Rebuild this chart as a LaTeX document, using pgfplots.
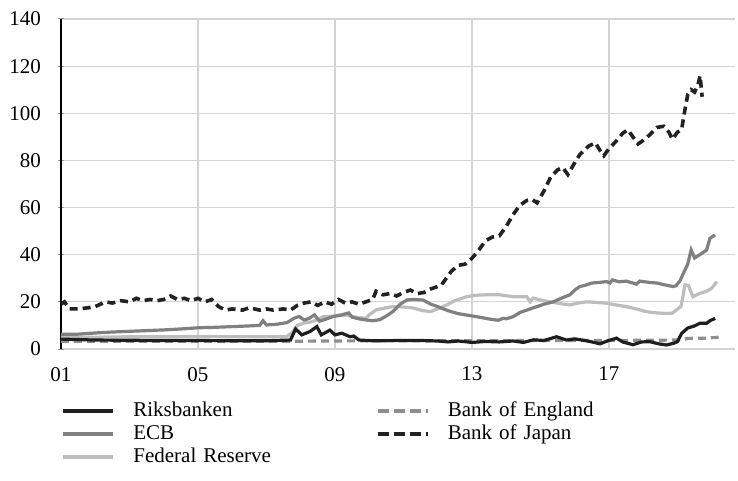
\documentclass[border=0pt]{standalone}
\usepackage{fontspec}
\setmainfont{Liberation Serif}
\usepackage{pgfplots}
\pgfplotsset{compat=1.18}
\definecolor{riks}{HTML}{1E1E1E}
\definecolor{ecb}{HTML}{808080}
\definecolor{fed}{HTML}{BDBDBD}
\definecolor{boe}{HTML}{8F8F8F}
\definecolor{boj}{HTML}{222222}
\definecolor{gridc}{HTML}{D4D4D4}
\begin{document}
\begin{tikzpicture}[font=\fontsize{10.5bp}{12bp}\selectfont]
\useasboundingbox (-30.5bp,-66bp) rectangle (338.5bp,174.5bp);
\begin{axis}[
  at={(0,0)}, anchor=south west,
  scale only axis, width=337bp, height=165bp,
  xmin=2001, xmax=2020.68, ymin=0, ymax=140,
  xtick={2001,2005,2009,2013,2017},
  xticklabels={01,05,09,13,17},
  ytick={0,20,40,60,80,100,120,140},
  /pgf/number format/assume math mode=true,
  axis x line=bottom, axis y line=left,
  x axis line style={draw=none},
  y axis line style={black, line width=0.8bp, -},
  grid=major,
  major grid style={gridc, line width=0.6bp},
  xtick style={draw=none},
  ytick style={gridc!70!black, line width=0.5bp},
  major tick length=3bp,
  tick label style={font=\fontsize{10.5bp}{12bp}\selectfont},
  xticklabel style={yshift=-4bp},
  yticklabel style={xshift=-5bp},
  clip=false,
  legend columns=2,
  legend cell align=left,
  legend style={at={(axis description cs:0,-0.155)}, anchor=north west,
    draw=none, fill=none, inner sep=0pt, outer sep=0pt,
    font=\fontsize{10.5bp}{12bp}\selectfont,
    row sep=0.5bp,
    nodes={inner sep=1bp, text height=7bp, text depth=2bp, text width=110bp},
    /tikz/every odd column/.append style={column sep=8bp},
    /tikz/every even column/.append style={column sep=10bp}},
  legend image code/.code={\draw[#1] (0bp,0bp) -- (25bp,0bp);},
]
% legend entries
\addlegendimage{riks, line width=2.2bp}
\addlegendentry{Riksbanken}
\addlegendimage{boe, line width=2.2bp, dash pattern=on 5.5bp off 2.5bp}
\addlegendentry{Bank of England}
\addlegendimage{ecb, line width=2.2bp}
\addlegendentry{ECB}
\addlegendimage{boj, line width=2.2bp, dash pattern=on 5.5bp off 2.5bp}
\addlegendentry{Bank of Japan}
\addlegendimage{fed, line width=2.2bp}
\addlegendentry{Federal Reserve}

% Bank of England
\addplot[forget plot, boe, line width=1.6bp, dash pattern=on 4bp off 2.5bp] coordinates {
(2001.0,3.3) (2004.0,3.3) (2007.8,3.3) (2010.0,3.5) (2013.0,3.5) (2015.0,3.6) (2017.0,3.6) (2019.1,3.8) (2019.3,4.5) (2019.8,4.6) (2020.2,5.0)
};
% Federal Reserve
\addplot[forget plot, fed, line width=1.6bp] coordinates {
(2001.0,5.0) (2002.0,5.0) (2003.0,5.2) (2004.0,5.2) (2005.0,5.3) (2006.0,5.2) (2007.0,5.2) (2007.6,5.3) (2007.75,7) (2007.9,10)
(2008.1,11) (2008.3,11.5) (2008.5,12.5) (2008.65,13.7) (2009.0,14) (2009.34,14.4) (2009.6,13.5) (2009.9,13) (2010.0,14.5) (2010.2,16.6)
(2010.5,17.5) (2010.7,18) (2011.0,17.8) (2011.28,17.4) (2011.5,16.5) (2011.77,15.8) (2012.0,17) (2012.26,18.7) (2012.5,20.5) (2012.85,22.2)
(2013.1,22.8) (2013.43,23) (2013.8,23) (2014.2,22.2) (2014.6,22.2) (2014.7,20) (2014.78,21.6) (2015.0,20.8) (2015.28,20) (2015.6,19.2)
(2015.86,18.7) (2016.1,19.5) (2016.35,20) (2016.6,19.8) (2016.93,19.4) (2017.2,18.7) (2017.5,18) (2017.8,17) (2018.1,15.8) (2018.4,15.3)
(2018.68,15.1) (2018.85,15.2) (2018.97,16.6) (2019.1,18) (2019.17,23) (2019.22,27.2) (2019.32,27) (2019.45,22.2) (2019.65,23.6) (2019.85,24.5)
(2020.0,25.8) (2020.15,28.6)
};
% ECB
\addplot[forget plot, ecb, line width=1.6bp] coordinates {
(2001.0,6.3) (2001.5,6.3) (2002.0,6.8) (2002.5,7.2) (2003.0,7.5) (2003.5,7.8) (2004.0,8.1) (2004.5,8.5) (2005.0,9.0) (2005.5,9.2)
(2006.0,9.5) (2006.5,9.8) (2006.8,10) (2006.9,12) (2007.0,10.2) (2007.3,10.5) (2007.6,11.2) (2007.8,13) (2007.95,13.8) (2008.1,12.3)
(2008.25,13) (2008.4,14.5) (2008.55,11.8) (2008.7,12.5) (2008.95,13.8) (2009.2,14.5) (2009.4,15.3) (2009.5,13.5) (2009.7,12.8) (2009.9,12.3)
(2010.1,12.0) (2010.3,12.4) (2010.5,14) (2010.7,16) (2010.9,19) (2011.1,20.8) (2011.3,21) (2011.57,20.8) (2011.8,19) (2012.0,18)
(2012.2,16.8) (2012.4,15.8) (2012.6,15) (2012.85,14.4) (2013.1,13.8) (2013.4,13) (2013.6,12.5) (2013.77,12.2) (2013.9,13) (2014.0,12.8)
(2014.2,13.7) (2014.4,15.5) (2014.6,16.5) (2014.9,18) (2015.1,19) (2015.37,20) (2015.6,21.5) (2015.86,23) (2016.0,25) (2016.15,26.5)
(2016.3,27) (2016.5,28) (2016.7,28.2) (2016.93,28.6) (2017.03,28) (2017.1,29.3) (2017.3,28.5) (2017.5,28.8) (2017.7,28) (2017.8,27.5)
(2017.9,28.8) (2018.0,28.6) (2018.2,28.2) (2018.4,28) (2018.6,27.3) (2018.87,26.5) (2018.95,26.8) (2019.07,28.8) (2019.17,32) (2019.3,36)
(2019.4,42) (2019.5,38.6) (2019.65,40) (2019.85,42) (2019.95,47) (2020.1,48.4)
};
% Riksbanken
\addplot[forget plot, riks, line width=1.6bp] coordinates {
(2001.0,4.2) (2002.0,3.8) (2003.0,3.7) (2004.0,3.6) (2005.0,3.6) (2006.0,3.5) (2007.0,3.5) (2007.7,3.8) (2007.85,8.5) (2008.03,6)
(2008.27,7.4) (2008.47,9.5) (2008.6,6) (2008.85,8) (2009.0,6) (2009.2,6.7) (2009.44,5.2) (2009.55,5.5) (2009.7,3.8) (2010.1,3.5)
(2011.0,3.6) (2011.5,3.6) (2012.0,3.4) (2012.3,3.0) (2012.6,3.4) (2013.0,2.8) (2013.4,3.2) (2013.8,3.0) (2014.2,3.4) (2014.5,2.8)
(2014.8,3.9) (2015.1,3.6) (2015.47,5.2) (2015.76,3.8) (2016.0,4.3) (2016.3,3.6) (2016.5,3.0) (2016.74,2.2) (2016.95,3.4) (2017.22,4.6)
(2017.4,3.0) (2017.7,1.8) (2017.95,3.0) (2018.2,3.1) (2018.45,2.2) (2018.68,1.7) (2018.9,2.5) (2019.0,3.1) (2019.12,6.6) (2019.3,8.9)
(2019.5,9.8) (2019.65,10.9) (2019.85,10.9) (2019.95,12) (2020.1,13)
};
% Bank of Japan
\addplot[forget plot, boj, line width=1.8bp, dash pattern=on 4bp off 2.5bp] coordinates {
(2001.0,19) (2001.1,20) (2001.25,17) (2001.5,17) (2001.8,17.5) (2002.0,18) (2002.3,20) (2002.5,19.5) (2002.75,20.5) (2003.0,20)
(2003.2,21.5) (2003.4,20.5) (2003.6,21) (2003.8,20.5) (2004.0,21) (2004.2,22.5) (2004.4,21) (2004.6,21.5) (2004.8,20.5) (2005.0,21.5)
(2005.2,20) (2005.4,21) (2005.6,18) (2005.8,16.5) (2006.0,17) (2006.3,16.5) (2006.5,17.5) (2006.8,16.5) (2007.0,17) (2007.2,16.5)
(2007.5,17) (2007.7,16.5) (2007.9,18.5) (2008.1,19.5) (2008.3,20) (2008.5,18.5) (2008.7,20) (2008.9,19) (2009.1,21) (2009.3,19.5)
(2009.5,20) (2009.7,19) (2009.9,20) (2010.1,21) (2010.2,24.5) (2010.4,23) (2010.6,23.5) (2010.8,22.5) (2011.0,24) (2011.2,25)
(2011.4,23.5) (2011.6,24) (2011.8,25.5) (2012.0,26.5) (2012.1,27) (2012.2,29) (2012.4,33) (2012.6,35.5) (2012.8,36) (2013.0,38.5)
(2013.2,42) (2013.4,46) (2013.6,47.5) (2013.8,48) (2014.0,52) (2014.2,57) (2014.4,61) (2014.6,63) (2014.75,63.5) (2014.9,62)
(2015.1,67) (2015.3,73) (2015.5,76) (2015.65,77) (2015.8,74) (2016.0,79) (2016.15,82.5) (2016.4,86) (2016.6,87.5) (2016.75,84)
(2016.85,82) (2017.0,85) (2017.2,88) (2017.4,91.5) (2017.55,93) (2017.7,90) (2017.85,87) (2018.0,88.5) (2018.2,91) (2018.4,94)
(2018.6,94.5) (2018.75,92) (2018.85,89) (2019.0,92) (2019.12,93) (2019.2,100) (2019.3,108) (2019.4,110) (2019.5,109) (2019.6,112)
(2019.66,116) (2019.72,107)
};
\end{axis}
\end{tikzpicture}
\end{document}
